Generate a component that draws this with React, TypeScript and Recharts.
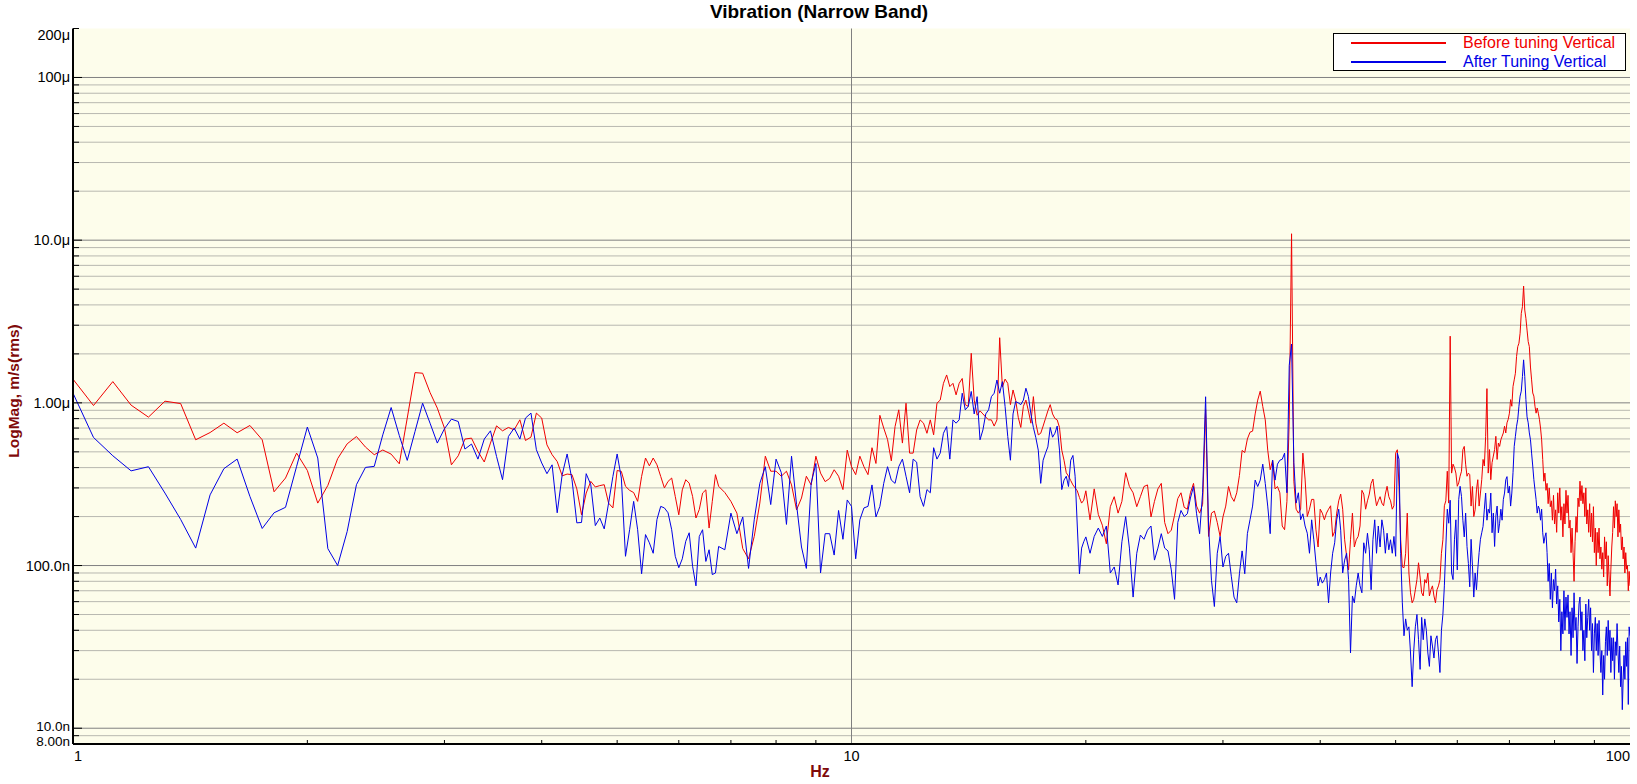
import {LineChart, Line, XAxis, YAxis, CartesianGrid, Legend} from 'recharts';

const TITLE = 'Vibration (Narrow Band)';
const X_LABEL = 'Hz';
const Y_LABEL = 'LogMag, m/s(rms)';
const SERIES_NAMES = ['Before tuning Vertical', 'After Tuning Vertical'];

// FFT bins: first bin (Hz) and bin width (Hz) of each block of readings
const BIN_START_A = 1;
const BIN_STEP_A = 0.0625;
const BIN_START_B = 6.875;
const BIN_STEP_B = 0.125;
const BIN_START_C = 20.25;
const BIN_STEP_C = 0.25;

// magnitudes in nm/s (rms)
const BEFORE_A = [
  1398, 963, 1351, 968, 817, 1024, 990, 593, 657, 750, 655, 726, 593, 284, 345, 491,
  384, 242, 311, 454, 560, 621, 535, 480, 513, 484, 422, 806, 1534, 1521, 1157, 928,
  700, 416, 473, 599, 607, 503, 433, 566, 722, 673, 706, 683, 787, 587, 616, 865,
  806, 552, 480, 436, 356, 365, 362, 296, 205, 279, 329, 304, 310, 314, 242, 226,
  384, 379, 307, 290, 281, 248, 353, 458, 410, 458, 416, 353, 300, 329, 345, 266,
  205, 292, 337, 321, 266, 196, 221, 279, 292, 170, 248, 362, 307,
];
const AFTER_A = [
  1147, 613, 473, 382, 405, 279, 192, 128, 272, 394, 451, 266, 169, 211, 228, 407,
  710, 458, 127, 100, 162, 314, 401, 407, 636, 936, 630, 443, 667, 995, 750, 566,
  693, 794, 768, 520, 558, 451, 599, 673, 468, 337, 621, 700, 599, 806, 865, 515,
  427, 367, 416, 211, 362, 485, 337, 183, 184, 367, 314, 176, 196, 168, 242, 353,
  485, 345, 114, 166, 248, 166, 89, 155, 138, 119, 192, 231, 226, 211, 166, 114,
  97, 110, 141, 159, 99, 75, 151, 166, 106, 125, 88, 90, 131,
];

const BEFORE_B = [
  281,
  248, 210, 127, 110, 151, 242, 470, 380,
  380, 354, 380, 313, 220, 260, 354, 313,
  470, 370, 328, 343, 388, 354, 293, 512,
  405, 362, 470, 405, 362, 530, 424, 838,
  700, 595, 440, 715, 906, 566, 995, 491,
  491, 681, 786, 750, 650, 786, 636, 995,
  1040, 1318, 1484, 1259, 1318, 1120, 1318, 1412,
  974, 952, 2016, 1040, 840, 893, 855, 818,
  786, 786, 720, 786, 2514, 1250, 1400, 1318,
  975, 1200, 1040, 815, 706, 952, 1040, 893,
  750, 1092, 750, 636, 650, 720, 802, 893,
  975, 855, 802, 786, 706, 512, 444, 372,
  354, 333, 313, 300, 288, 262, 242, 252,
  288,
];
const AFTER_B = [
  125,
  210, 157, 199, 96, 191, 320, 405, 237,
  451, 372, 179, 470, 237, 130, 96, 320,
  424, 90, 157, 157, 116, 218, 145, 253,
  231, 110, 191, 226, 231, 313, 199, 231,
  320, 405, 335, 320, 405, 451, 354, 280,
  451, 432, 265, 231, 293, 280, 530, 451,
  491, 650, 715, 451, 786, 750, 786, 1146,
  906, 952, 1175, 855, 1092, 593, 681, 855,
  906, 1092, 1146, 1381, 1146, 1350, 950, 621,
  444, 855, 1018, 1000, 975, 1040, 1230, 1092,
  855, 706, 611, 512, 320, 444, 491, 536,
  706, 615, 650, 720, 512, 293, 335, 354,
  306, 444, 475, 354, 175, 89, 128, 140,
  150,
];

const BEFORE_C = [
  191, 296, 206, 177, 136, 230, 265, 210, 248, 372, 306, 280,
  230, 265, 306, 313, 199, 248, 296, 320, 184, 157, 165, 204,
  258, 280, 228, 222, 280, 320, 232, 210, 238, 908, 151, 210,
  216, 184, 151, 199, 232, 306, 265, 248, 280, 358, 510, 495,
  600, 660, 670, 855, 1040, 1180, 950, 786, 512, 388, 444, 296,
  306, 280,
  175, 166,
  248, 787, 10950, 330, 222, 210, 222, 491, 340, 200, 222, 255,
  255, 166, 130, 222, 210, 191, 210, 222, 233, 151, 162, 210,
  250, 275, 222, 144, 114, 94, 144, 210, 130, 144, 151, 175,
  290, 275, 222, 250, 275, 320, 340, 275, 233, 250, 265, 242,
  233, 275, 307, 265, 250, 222, 233, 491, 515, 307, 144, 98,
  97, 119, 210, 90, 68, 59, 62, 71, 82, 104, 85, 68,
  65, 82, 78, 90, 65, 71, 75, 65, 59, 71, 75, 82,
  119, 144, 233, 250, 380, 242, 2570, 370, 420, 400, 370, 307,
  322, 354, 380, 516, 540, 420, 354, 370, 362, 232, 306, 200,
  220, 292, 337, 232, 279, 337, 449, 409, 623, 1223, 370, 516,
  337, 429, 471, 516, 623, 449, 566, 540, 593, 623, 653, 718,
  653, 754, 792, 864, 1047, 953, 1260, 1384, 1520, 1930, 2216, 2325,
  2680, 3549, 3900, 5220, 3720, 3310, 2800, 2380, 2216, 1660, 1384, 1150,
  1100, 953, 864, 930, 864, 792, 700, 593, 449, 330, 370, 290,
  320, 240, 300, 230, 250, 190, 270, 180, 220, 160, 280, 210,
  300, 190, 230, 150, 240, 180, 290, 210, 270, 170, 190, 120,
  170, 120, 80, 140, 200, 160, 260, 230, 330, 250, 310, 240,
  280, 200, 300, 180, 220, 160, 240, 150, 210, 140, 230, 120,
  170, 100, 160, 120, 170, 110, 130, 95, 120, 85, 150, 110,
  140, 75, 115, 85, 65, 95, 130, 160, 230, 170, 250, 200,
  240, 150, 220, 160, 180, 125, 150, 110, 130, 90, 120, 95,
  100, 70, 92, 75,
];
const AFTER_C = [
  119, 151, 170, 151, 175, 90, 98, 76, 140, 200, 128, 64,
  119, 154, 145, 165, 175, 108, 128, 157, 128, 123, 94, 62,
  184, 218, 200, 208, 260, 306, 208, 157, 280, 1090, 175, 81,
  56, 119, 151, 98, 114, 119, 86, 64, 59, 89, 123, 89,
  157, 191, 232, 335, 306, 335, 420, 320, 232, 157, 444, 335,
  420, 444,
  450, 491,
  280, 1700, 2300, 430, 242, 280, 191, 208, 175, 158, 119, 191,
  144, 104, 75, 85, 78, 82, 90, 59, 90, 119, 138, 191,
  222, 165, 90, 108, 119, 82, 29, 65, 59, 75, 90, 75,
  68, 138, 119, 158, 125, 71, 144, 191, 119, 175, 130, 191,
  165, 119, 158, 125, 144, 119, 151, 114, 491, 450, 119, 59,
  37, 47, 40, 42, 29, 18, 30, 42, 50, 35, 23, 48,
  35, 47, 40, 29, 24, 37, 32, 27, 35, 37, 29, 22,
  40, 50, 75, 130, 222, 182, 252, 90, 82, 144, 191, 94,
  254, 307, 266, 190, 150, 210, 131, 103, 74, 145, 100, 64,
  90, 71, 95, 120, 145, 159, 174, 222, 279, 190, 222, 210,
  279, 159, 210, 131, 201, 232, 159, 182, 222, 190, 254, 279,
  337, 352, 279, 307, 232, 279, 372, 540, 623, 718, 792, 953,
  1100, 1180, 1450, 1838, 1450, 1047, 820, 754, 653, 593, 491, 409,
  337, 292, 254, 210, 232, 222, 190, 222, 159, 137, 150, 159,
  120, 80, 103, 62, 90, 55, 82, 70, 95, 58, 75, 45,
  62, 30, 52, 38, 70, 40, 64, 48, 66, 38, 52, 28,
  55, 36, 68, 40, 48, 25, 42, 58, 64, 40, 52, 30,
  40, 26, 58, 36, 48, 62, 40, 55, 30, 44, 22, 38,
  48, 30, 44, 28, 46, 30, 22, 30, 16, 28, 20, 34,
  42, 28, 46, 30, 40, 22, 36, 26, 36, 20, 34, 28,
  44, 30, 22, 32, 18, 24, 13, 20, 28, 20, 34, 24,
  36, 14, 42, 37,
];

const X_TICKS = [1, 2, 3, 4, 5, 6, 7, 8, 9, 10, 20, 30, 40, 50, 60, 70, 80, 90, 100];
const X_TICK_LABELS: Record<number, string> = {1: '1', 10: '10', 100: '100'};

const Y_DECADES = [10, 100, 1000, 10000, 100000];
const Y_MINOR = [
  9, 20, 30, 40, 50, 60, 70, 80, 90, 200, 300, 400, 500, 600, 700, 800, 900,
  2000, 3000, 4000, 5000, 6000, 7000, 8000, 9000,
  20000, 30000, 40000, 50000, 60000, 70000, 80000, 90000,
];
const Y_TICK_LABELS: Record<number, string> = {
  8: '8.00n',
  10: '10.0n',
  100: '100.0n',
  1000: '1.00\u03bc',
  10000: '10.0\u03bc',
  100000: '100\u03bc',
  200000: '200\u03bc',
};
const Y_TICKS = [8, ...Y_DECADES, ...Y_MINOR, 200000].sort((a, b) => a - b);

const FONT = '"Liberation Sans", Arial, sans-serif';
const RED = '#f00000';
const BLUE = '#0000e6';
const AXIS_RED = '#7f0a0a';
const PLOT_BG = '#fdfdeb';

function buildRows() {
  const blocks: [number, number, number[], number[]][] = [
    [BIN_START_A, BIN_STEP_A, BEFORE_A, AFTER_A],
    [BIN_START_B, BIN_STEP_B, BEFORE_B, AFTER_B],
    [BIN_START_C, BIN_STEP_C, BEFORE_C, AFTER_C],
  ];
  const rows: {hz: number; before: number; after: number}[] = [];
  for (const [start, step, before, after] of blocks) {
    before.forEach((v, i) => rows.push({hz: start + i * step, before: v, after: after[i]}));
  }
  return rows;
}

const data = buildRows();

function YTick(props: any) {
  const {x, y, payload} = props;
  const v = payload.value;
  const label = Y_TICK_LABELS[v];
  const len = Y_DECADES.includes(v) ? 9 : 6;
  // the end labels are nudged inside the plot, as in the original
  let dy = 0;
  if (v === 200000) dy = 6;
  if (v === 10) dy = -2;
  if (v === 8) dy = -3;
  return (
    <g>
      <line x1={x} x2={x + len} y1={y} y2={y} stroke="#000" strokeWidth={1} />
      {label && (
        <text
          x={x - 3}
          y={y + dy}
          textAnchor="end"
          dominantBaseline="central"
          fontFamily={FONT}
          fontSize={v === 8 || v === 10 ? 13.5 : 14.5}
          fill="#000"
        >
          {label}
        </text>
      )}
    </g>
  );
}

function XTick(props: any) {
  const {x, y, payload} = props;
  const v = payload.value;
  const label = X_TICK_LABELS[v];
  let anchor: 'start' | 'middle' | 'end' = 'middle';
  if (v === 1) anchor = 'start';
  if (v === 100) anchor = 'end';
  return (
    <g>
      {!label && <line x1={x} x2={x} y1={y} y2={y - 4} stroke="#000" strokeWidth={1} />}
      {label && (
        <text
          x={v === 1 ? x + 1 : x}
          y={y + 12}
          textAnchor={anchor}
          dominantBaseline="central"
          fontFamily={FONT}
          fontSize={14.5}
          fill="#000"
        >
          {label}
        </text>
      )}
    </g>
  );
}

function LegendBox({payload}: any) {
  const items = (payload ?? [])
    .map((p: any) => ({name: p.value, color: p.color}))
    .sort((a: any, b: any) => SERIES_NAMES.indexOf(a.name) - SERIES_NAMES.indexOf(b.name));
  return (
    <div
      style={{
        position: 'relative',
        width: 293,
        height: 38,
        boxSizing: 'border-box',
        border: '1px solid #000',
        background: '#fff',
        fontFamily: FONT,
        fontSize: 16,
      }}
    >
      {items.map((it: any, i: number) => (
        <div
          key={it.name}
          style={{
            position: 'absolute',
            left: 0,
            top: -1 + i * 19,
            height: 19,
            display: 'flex',
            alignItems: 'center',
            whiteSpace: 'nowrap',
          }}
        >
          <span
            style={{display: 'inline-block', marginLeft: 17, width: 95, height: 2, background: it.color}}
          />
          <span style={{marginLeft: 17, color: it.color, lineHeight: '19px'}}>{it.name}</span>
        </div>
      ))}
    </div>
  );
}

export default function App() {
  return (
    <div
      style={{
        position: 'absolute',
        left: 0,
        top: 0,
        width: 1637,
        height: 784,
        overflow: 'hidden',
        background: '#fff',
        fontFamily: FONT,
      }}
    >
      <div
        style={{
          position: 'absolute',
          left: 619,
          top: 2,
          width: 400,
          textAlign: 'center',
          fontWeight: 'bold',
          fontSize: 19,
          lineHeight: '20px',
          color: '#000',
        }}
      >
        {TITLE}
      </div>
      <div
        style={{
          position: 'absolute',
          left: 13.5 - 150,
          top: 391 - 10,
          width: 300,
          height: 20,
          lineHeight: '20px',
          textAlign: 'center',
          transform: 'rotate(-90deg)',
          fontWeight: 'bold',
          fontSize: 15.5,
          color: AXIS_RED,
        }}
      >
        {Y_LABEL}
      </div>
      <div
        style={{
          position: 'absolute',
          left: 820 - 50,
          top: 772 - 10,
          width: 100,
          lineHeight: '20px',
          textAlign: 'center',
          fontWeight: 'bold',
          fontSize: 16,
          color: AXIS_RED,
        }}
      >
        {X_LABEL}
      </div>
      <LineChart
        width={1637}
        height={784}
        data={data}
        margin={{top: 28.5, right: 7, bottom: 0, left: 0}}
      >
        <CartesianGrid
          fill={PLOT_BG}
          stroke="#b8b8b0"
          vertical={false}
          horizontalValues={Y_MINOR}
          syncWithTicks
        />
        <CartesianGrid
          stroke="#808080"
          horizontalValues={Y_DECADES}
          verticalValues={[10]}
          syncWithTicks
        />
        <XAxis
          dataKey="hz"
          type="number"
          scale="log"
          domain={[1, 100]}
          allowDataOverflow
          ticks={X_TICKS}
          interval={0}
          tick={(p: any) => <XTick {...p} />}
          tickLine={false}
          tickSize={0}
          tickMargin={0}
          axisLine={{stroke: '#000', strokeWidth: 2}}
          height={40}
        />
        <YAxis
          type="number"
          scale="log"
          domain={[8, 200000]}
          allowDataOverflow
          ticks={Y_TICKS}
          interval={0}
          tick={(p: any) => <YTick {...p} />}
          tickLine={false}
          tickSize={0}
          tickMargin={0}
          axisLine={{stroke: '#000', strokeWidth: 2}}
          width={73}
        />
        <Legend
          layout="vertical"
          align="center"
          verticalAlign="middle"
          wrapperStyle={{left: 1333, top: 33, width: 293, height: 38}}
          content={(p: any) => <LegendBox {...p} />}
        />
        <Line
          type="linear"
          dataKey="before"
          name={SERIES_NAMES[0]}
          stroke={RED}
          strokeWidth={1}
          dot={false}
          activeDot={false}
          isAnimationActive={false}
        />
        <Line
          type="linear"
          dataKey="after"
          name={SERIES_NAMES[1]}
          stroke={BLUE}
          strokeWidth={1}
          dot={false}
          activeDot={false}
          isAnimationActive={false}
        />
      </LineChart>
    </div>
  );
}
